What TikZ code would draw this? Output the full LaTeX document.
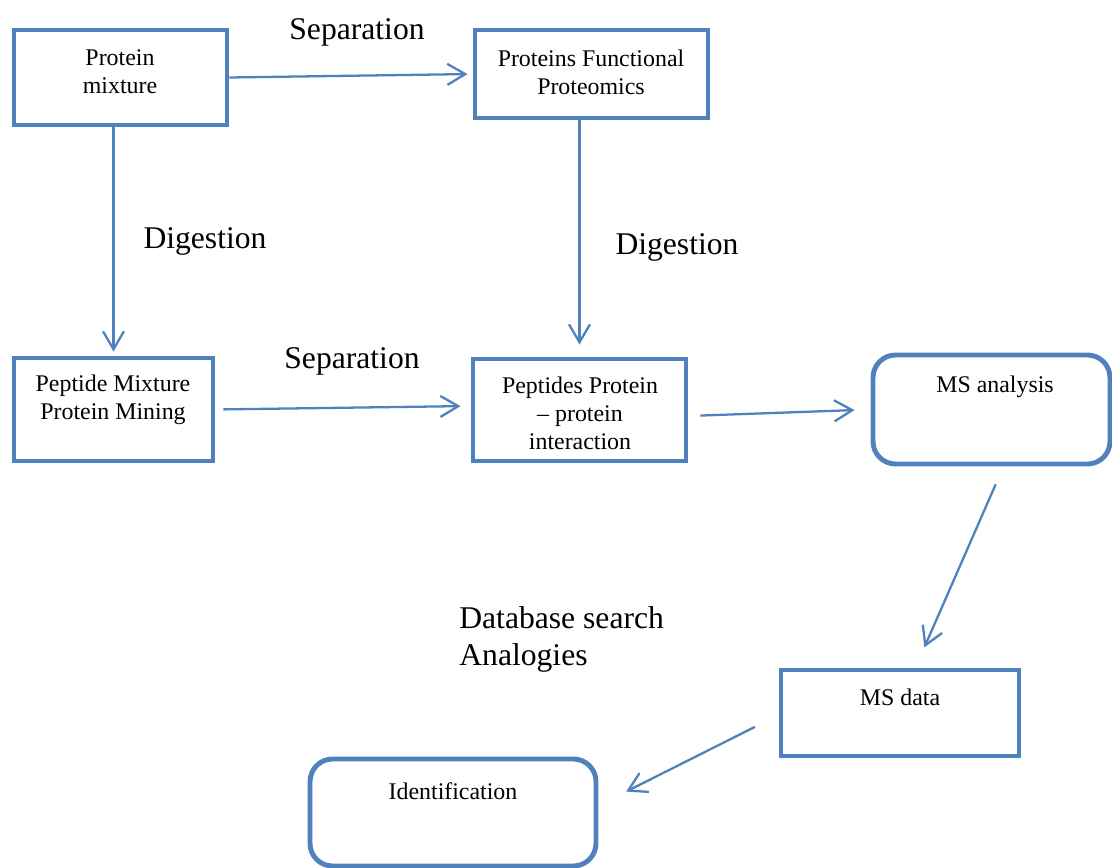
\documentclass[tikz,border=0pt]{standalone}
\usepackage{fontspec}
\setmainfont{Liberation Serif}
\usetikzlibrary{arrows.meta}
\definecolor{boxblue}{HTML}{4F81BD}
\tikzset{
	box/.style={draw=boxblue,line width=2.8pt,rectangle,inner sep=0pt},
	rbox/.style={box,rounded corners=0.45cm},
	txt/.style={align=center,inner sep=0pt,font=\fontsize{13.6}{15.9}\selectfont},
	lbl/.style={inner sep=0pt,font=\fontsize{18}{21}\selectfont},
	arr/.style={draw=boxblue,line width=1.3pt,-{Straight Barb[length=0.36cm,width=0.42cm]}}
}
\begin{document}
\begin{tikzpicture}[x=0.02cm,y=-0.02cm]
	\useasboundingbox (0,0) rectangle (1112,868);
	% boxes
	\node[box,minimum width=4.26cm,minimum height=1.9cm] (pm) at (120.5,77.5) {};
	\node[box,minimum width=4.66cm,minimum height=1.76cm] (pfp) at (591.5,74) {};
	\node[box,minimum width=3.98cm,minimum height=2.06cm] (pmm) at (113.5,409.5) {};
	\node[box,minimum width=4.26cm,minimum height=2.04cm] (ppi) at (579.5,410) {};
	\node[rbox,minimum width=4.74cm,minimum height=2.18cm] (msa) at (991.5,409.5) {};
	\node[box,minimum width=4.76cm,minimum height=1.72cm] (msd) at (900,713) {};
	\node[rbox,minimum width=5.72cm,minimum height=2.14cm] (idf) at (453,812.5) {};
	% box texts
	\node[txt] (pmt) at (120,72) {Protein\\mixture};
	\node[txt] (pfpt) at (591,72) {Proteins Functional\\Proteomics};
	\node[txt] (pmmt) at (113,400) {Peptide Mixture\\Protein Mining};
	\node[txt] (ppit) at (580,413) {Peptides Protein\\– protein\\interaction};
	\node[txt] (msat) at (995,387) {MS analysis};
	\node[txt] (msdt) at (900,697) {MS data};
	\node[txt] (idft) at (453,791) {Identification};
	% labels
	\node[lbl] (sep1) at (357,32) {Separation};
	\node[lbl] (sep2) at (352,361) {Separation};
	\node[lbl] (dig1) at (205,241) {Digestion};
	\node[lbl] (dig2) at (677,247) {Digestion};
	\node[lbl,align=left,anchor=west] (db) at (459,639) {Database search\\Analogies};
	% arrows
	\draw[arr,shorten >=0.1cm] (pm.east) -- (pfp.west);
	\draw[arr,shorten >=0.08cm] (pm.south -| pmm.north) -- (pmm.north);
	\draw[arr,shorten >=0.24cm] (pfp.south -| ppi.north) -- (ppi.north);
	\draw[arr,shorten <=0.16cm,shorten >=0.2cm] (pmm.east) -- ([yshift=0.08cm]ppi.west);
	\draw[arr,shorten <=0.24cm,shorten >=0.32cm] ([yshift=-0.12cm]ppi.east) -- (msa.west);
	\draw[arr,shorten <=0.39cm,shorten >=0.44cm] ([xshift=0.24cm]msa.south) -- ([xshift=0.31cm]msd.north);
	\draw[arr,shorten <=0.53cm,shorten >=0.62cm] ([yshift=-0.04cm]msd.west) -- ([yshift=0.14cm]idf.east);
\end{tikzpicture}
\end{document}
